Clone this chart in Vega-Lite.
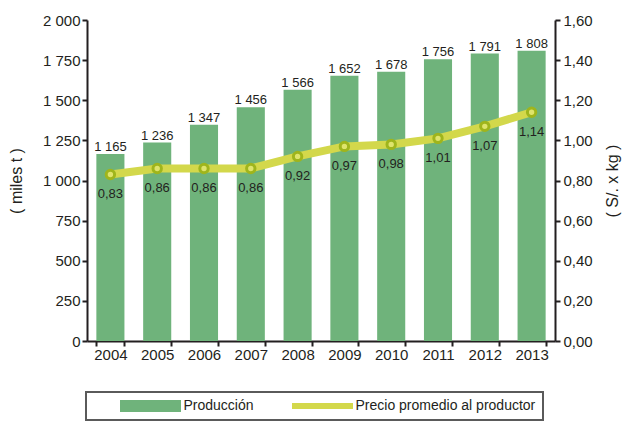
{
  "$schema": "https://vega.github.io/schema/vega-lite/v6.json",
  "width": 468,
  "height": 321,
  "autosize": {"type": "none"},
  "padding": {"left": 87, "top": 20, "right": 69, "bottom": 80},
  "config": {
    "locale": {"number": {"decimal": ",", "thousands": " ", "grouping": [3], "currency": ["", ""]}},
    "view": {"stroke": null},
    "font": "Liberation Sans",
    "axis": {
      "domainColor": "#231f20", "domainWidth": 2,
      "tickColor": "#231f20", "tickWidth": 2, "tickSize": 5,
      "labelColor": "#231f20", "labelFontSize": 15, "labelFont": "Liberation Sans",
      "titleFont": "Liberation Sans", "titleFontWeight": "normal", "titleFontSize": 16, "titleColor": "#231f20",
      "grid": false
    }
  },
  "data": {"values": [
    {"year": "2004", "prod": 1165, "price": 0.83},
    {"year": "2005", "prod": 1236, "price": 0.86},
    {"year": "2006", "prod": 1347, "price": 0.86},
    {"year": "2007", "prod": 1456, "price": 0.86},
    {"year": "2008", "prod": 1566, "price": 0.92},
    {"year": "2009", "prod": 1652, "price": 0.97},
    {"year": "2010", "prod": 1678, "price": 0.98},
    {"year": "2011", "prod": 1756, "price": 1.01},
    {"year": "2012", "prod": 1791, "price": 1.07},
    {"year": "2013", "prod": 1808, "price": 1.14}
  ]},
  "encoding": {
    "x": {"field": "year", "type": "ordinal",
      "scale": {"paddingInner": 0.4, "paddingOuter": 0.2},
      "axis": {"title": null, "labelAngle": 0, "tickBand": "extent", "labelPadding": 1}}
  },
  "layer": [
    {
      "encoding": {
        "y": {"field": "prod", "type": "quantitative",
          "scale": {"domain": [0, 2000]},
          "axis": {"title": "( miles t )", "values": [0, 250, 500, 750, 1000, 1250, 1500, 1750, 2000],
            "format": ",d", "labelPadding": 2, "titlePadding": 18}}
      },
      "layer": [
        {"mark": {"type": "bar"},
         "encoding": {"color": {"datum": "Producción", "type": "nominal",
           "scale": {"domain": ["Producción", "Precio promedio al productor"], "range": ["#6fb37b", "#d3d84b"]},
           "legend": {
             "title": null, "orient": "none", "legendX": -1, "legendY": 372, "direction": "horizontal",
             "strokeColor": "#5a5a5a", "padding": 7, "columnPadding": 11,
             "symbolType": "M-5.083,-1H5.083V1H-5.083Z", "symbolSize": 144,
             "symbolOffset": 50.5, "labelOffset": 26, "labelLimit": 400,
             "labelFontSize": 14, "labelFont": "Liberation Sans", "labelColor": "#231f20",
             "labelExpr": "datum.index === 1 ? datum.label + '\u00a0\u00a0\u00a0' : datum.label",
             "encode": {
               "symbols": {"update": {
                 "shape": {"signal": "datum.index === 0 ? 'M-5.083,-1H5.083V1H-5.083Z' : 'M-5.083,-0.5H5.083V0.5H-5.083Z'"},
                 "fill": {"signal": "datum.index === 0 ? '#6fb37b' : '#d3d84b'"},
                 "strokeWidth": {"value": 0},
                 "opacity": {"value": 1}
               }},
               "legend": {"update": {"strokeWidth": {"value": 2}}}
             }
           }}}},
        {"mark": {"type": "text", "baseline": "alphabetic", "dy": -3, "fontSize": 13, "color": "#231f20"},
         "encoding": {"text": {"field": "prod", "type": "quantitative", "format": ",d"}}}
      ]
    },
    {
      "encoding": {
        "y": {"field": "price", "type": "quantitative",
          "scale": {"domain": [0, 1.6]},
          "axis": {"title": "( S/. x kg )", "orient": "right", "values": [0, 0.2, 0.4, 0.6, 0.8, 1.0, 1.2, 1.4, 1.6],
            "format": ".2f", "labelPadding": 3, "titlePadding": 28, "titleAngle": 270}}
      },
      "layer": [
        {"mark": {"type": "line", "strokeWidth": 8},
         "encoding": {"color": {"datum": "Precio promedio al productor", "type": "nominal"}}},
        {"mark": {"type": "point", "shape": "circle", "filled": true, "fill": "#dee46c", "stroke": "#9fb51c", "strokeWidth": 3, "size": 70, "opacity": 1}},
        {"mark": {"type": "text", "baseline": "alphabetic", "dy": 24, "fontSize": 13, "color": "#231f20"},
         "encoding": {"text": {"field": "price", "type": "quantitative", "format": ".2f"}}}
      ]
    }
  ],
  "resolve": {"scale": {"y": "independent"}}
}
